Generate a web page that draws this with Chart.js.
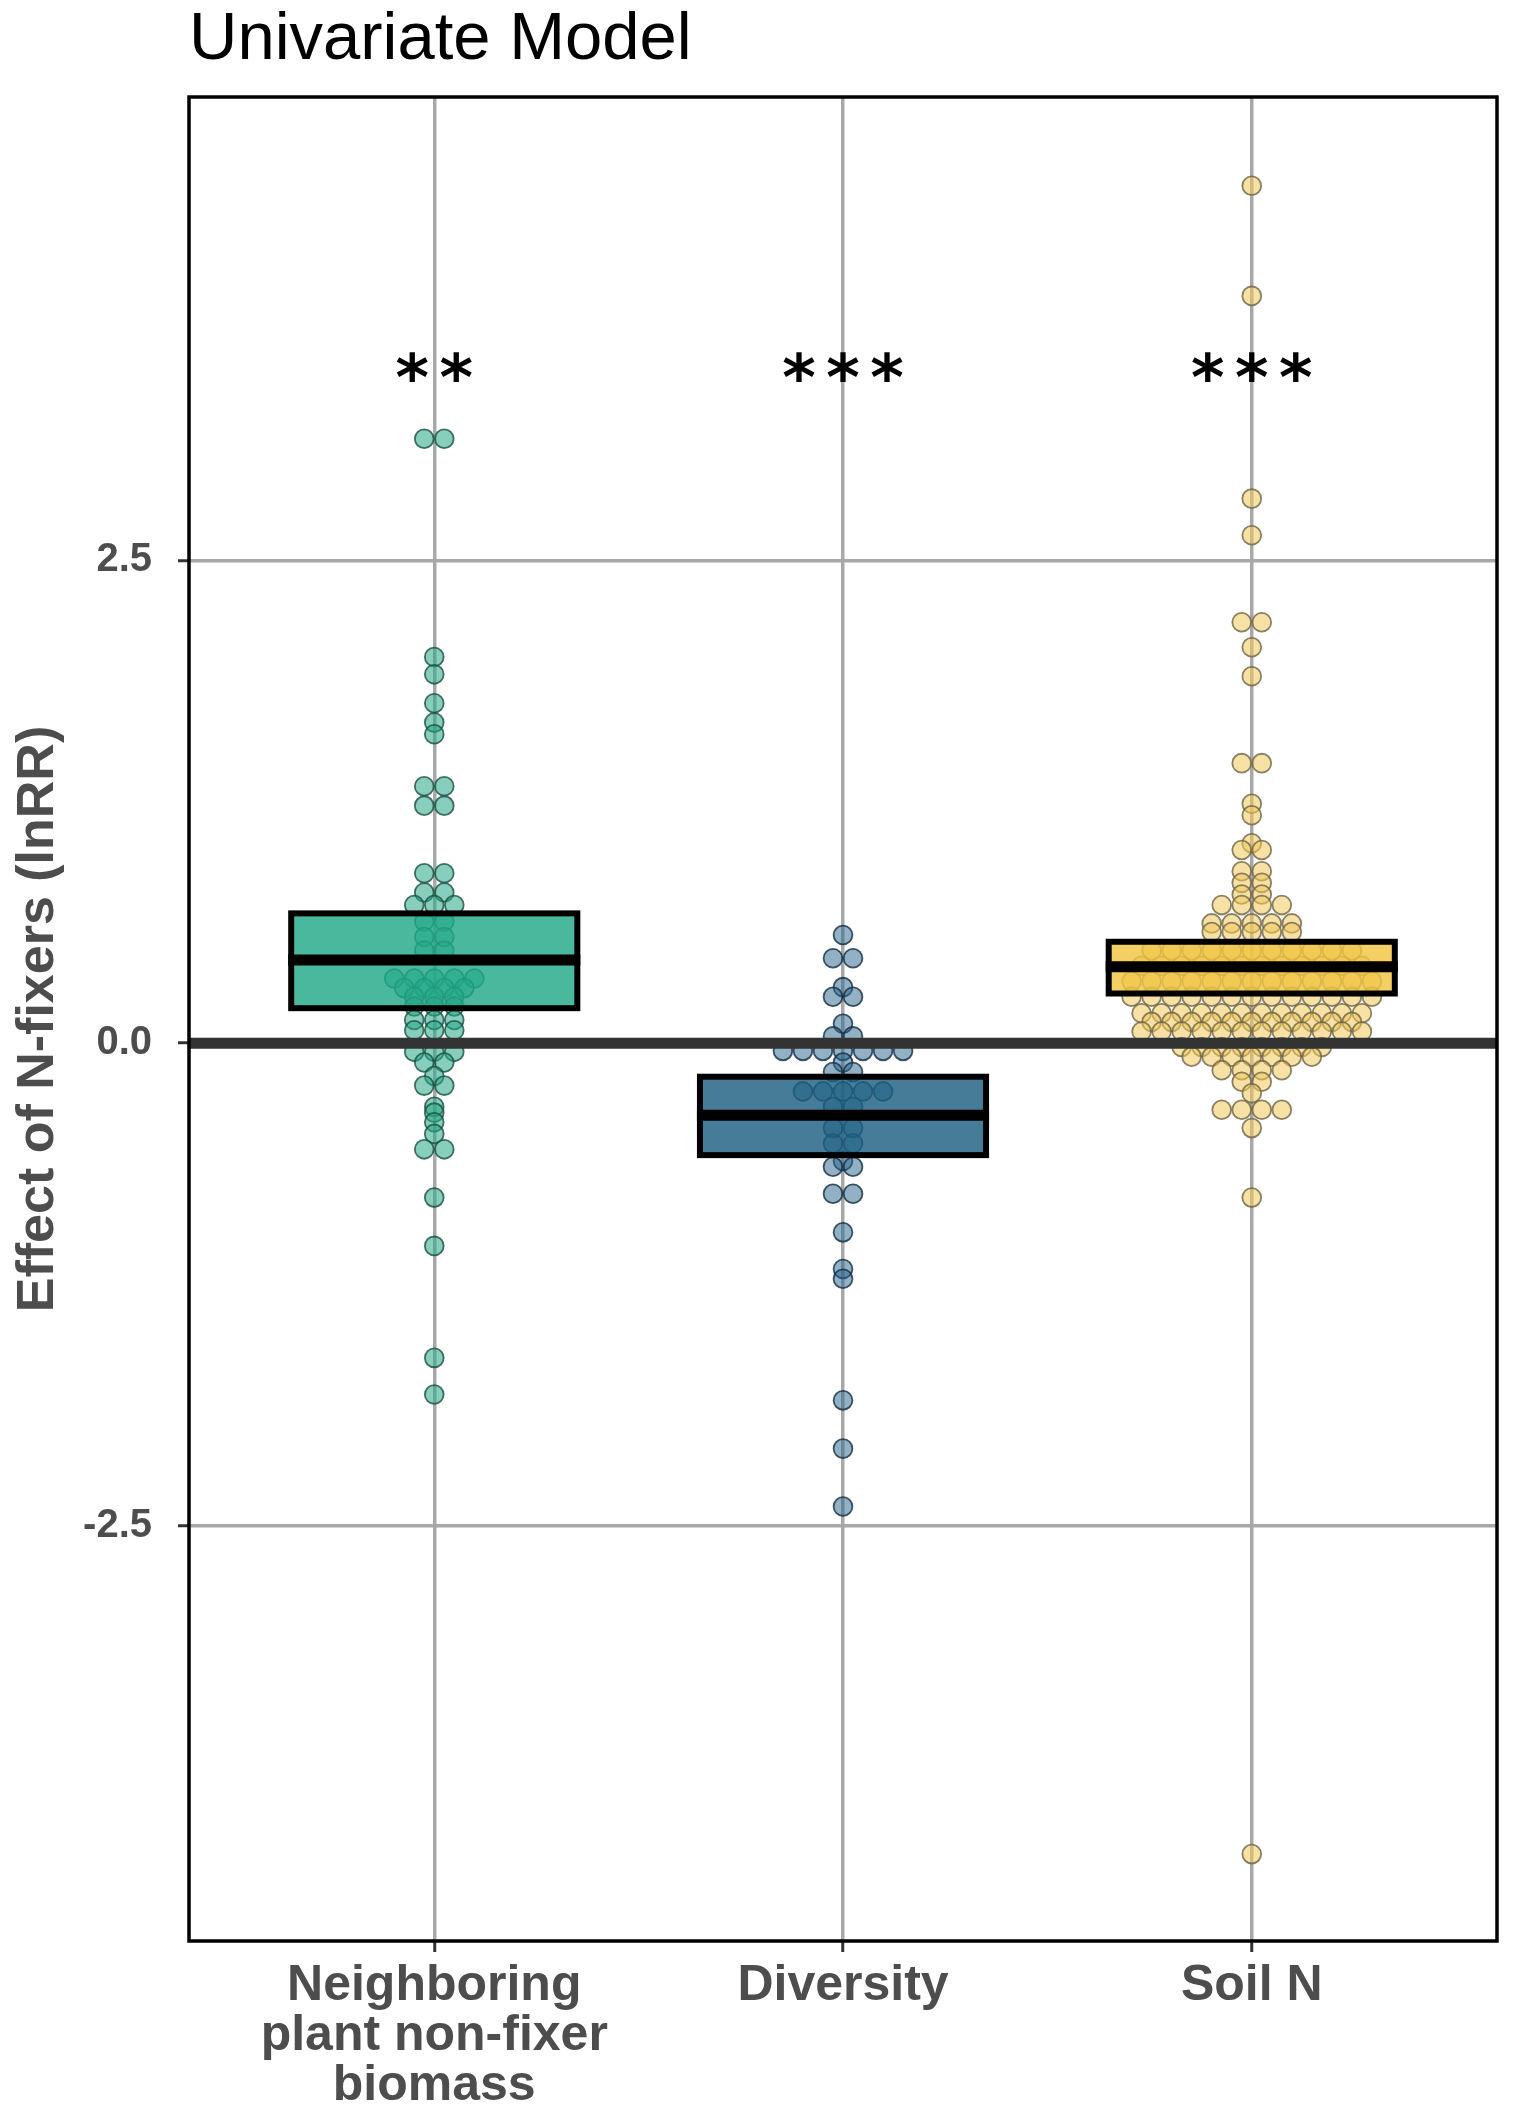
<!DOCTYPE html>
<html>
<head>
<meta charset="utf-8">
<script src="https://cdn.jsdelivr.net/npm/chart.js@4.4.1/dist/chart.umd.min.js"></script>
<style>
  html, body { margin: 0; padding: 0; background: #ffffff; }
  #wrap { width: 1514px; height: 2113px; position: relative; }
</style>
</head>
<body>
<div id="wrap"><canvas id="chart"></canvas></div>
<script>
// ---------- data ----------
const categories = ['Neighboring plant non-fixer biomass', 'Diversity', 'Soil N'];
const tickLabels = [['Neighboring', 'plant non-fixer', 'biomass'], ['Diversity'], ['Soil N']];
const yTicks = [2.5, 0, -2.5];
const significance = ['**', '***', '***'];
const significanceY = 3.5;

// crossbar: lower, middle, upper
const boxLow  = [0.181, -0.580, 0.257];
const boxMean = [0.430, -0.373, 0.395];
const boxHigh = [0.672, -0.174, 0.525];

// individual effect sizes (lnRR), one entry per dot
const neighboring = [
  3.13, 3.13, 2.00, 1.91, 1.76, 1.66, 1.60, 1.33, 1.33, 1.23, 1.23,
  0.88, 0.88, 0.78, 0.78, 0.715, 0.715, 0.715, 0.63, 0.63, 0.55, 0.55, 0.48, 0.48,
  0.335, 0.335, 0.335, 0.335, 0.335, 0.285, 0.285, 0.285, 0.285,
  0.24, 0.24, 0.24, 0.19, 0.19, 0.19, 0.12, 0.12, 0.12, 0.067, 0.067, 0.067,
  -0.045, -0.045, -0.045, -0.10, -0.10, -0.17, -0.22, -0.22,
  -0.33, -0.36, -0.41, -0.47, -0.55, -0.55, -0.80, -1.05, -1.63, -1.82
];
const diversity = [
  0.56, 0.44, 0.44, 0.29, 0.24, 0.24, 0.10, 0.035, 0.035,
  -0.04, -0.04, -0.04, -0.04, -0.04, -0.04, -0.04, -0.10, -0.15, -0.15,
  -0.25, -0.25, -0.25, -0.25, -0.25, -0.33, -0.33, -0.44, -0.44, -0.52, -0.52,
  -0.61, -0.64, -0.64, -0.78, -0.78, -0.98, -1.17, -1.22, -1.85, -2.10, -2.40
];
const soilN = [
  4.44, 3.87, 2.82, 2.63, 2.18, 2.18, 2.05, 1.90, 1.45, 1.45, 1.24, 1.18,
  1.035, 1.00, 1.00, 0.89, 0.89, 0.83, 0.83, 0.77, 0.77,
  0.715, 0.715, 0.715, 0.715, 0.62, 0.62, 0.62, 0.62, 0.62, 0.575, 0.575, 0.575, 0.575, 0.575,
  0.48, 0.48, 0.48, 0.48, 0.48, 0.48, 0.48, 0.48, 0.48, 0.48, 0.48,
  0.40, 0.40, 0.40, 0.40, 0.40, 0.40, 0.40, 0.40, 0.40, 0.40, 0.40, 0.40,
  0.32, 0.32, 0.32, 0.32, 0.32, 0.32, 0.32, 0.32, 0.32, 0.32, 0.32, 0.32, 0.32,
  0.24, 0.24, 0.24, 0.24, 0.24, 0.24, 0.24, 0.24, 0.24, 0.24, 0.24, 0.24, 0.24,
  0.155, 0.155, 0.155, 0.155, 0.155, 0.155, 0.155, 0.155, 0.155, 0.155, 0.155, 0.155,
  0.11, 0.11, 0.11, 0.11, 0.11, 0.11, 0.11, 0.11, 0.11, 0.11, 0.11,
  0.06, 0.06, 0.06, 0.06, 0.06, 0.06, 0.06, 0.06, 0.06, 0.06, 0.06, 0.06,
  -0.02, -0.02, -0.02, -0.02, -0.02, -0.02, -0.02, -0.02,
  -0.07, -0.07, -0.07, -0.07, -0.07, -0.07, -0.07,
  -0.14, -0.14, -0.14, -0.14, -0.20, -0.20, -0.26,
  -0.345, -0.345, -0.345, -0.345, -0.44, -0.80, -4.20
];
const seriesValues = [neighboring, diversity, soilN];

// ---------- styles ----------
const FONT = "'Liberation Sans', Arial, Helvetica, sans-serif";
const dotFill   = ['rgba(38,166,133,0.55)', 'rgba(40,100,140,0.50)', 'rgba(240,200,90,0.55)'];
const dotBorder = ['rgba(25,80,65,0.8)', 'rgba(20,45,65,0.8)', 'rgba(110,100,70,0.8)'];
const boxFill   = ['rgba(33,168,136,0.82)', 'rgba(29,95,129,0.82)', 'rgba(240,196,66,0.82)'];
const stackStep = 0.049;      // horizontal spacing of stacked dots (x units)
const boxHalfWidth = 0.35;

// dotplot-style centred stacking of equal values
function stackDots(values, center) {
  const groups = new Map();
  values.forEach(v => {
    const k = v.toFixed(3);
    if (!groups.has(k)) groups.set(k, []);
    groups.get(k).push(v);
  });
  const pts = [];
  groups.forEach(arr => {
    const n = arr.length;
    arr.forEach((v, i) => pts.push({ x: center + (i - (n - 1) / 2) * stackStep, y: v }));
  });
  return pts;
}

const datasets = seriesValues.map((vals, i) => ({
  label: categories[i],
  data: stackDots(vals, i + 1),
  backgroundColor: dotFill[i],
  borderColor: dotBorder[i],
  borderWidth: 1.8,
  pointRadius: 9.4,
  pointHoverRadius: 9.4
}));

const overlay = {
  id: 'overlay',
  afterDatasetsDraw(chart) {
    const { ctx, chartArea: a, scales: { x, y } } = chart;
    ctx.save();
    // zero reference line
    const y0 = y.getPixelForValue(0);
    ctx.strokeStyle = '#333333';
    ctx.lineWidth = 11;
    ctx.beginPath(); ctx.moveTo(a.left, y0); ctx.lineTo(a.right, y0); ctx.stroke();
    // crossbars
    categories.forEach((c, i) => {
      const xl = x.getPixelForValue(i + 1 - boxHalfWidth);
      const xr = x.getPixelForValue(i + 1 + boxHalfWidth);
      const yt = y.getPixelForValue(boxHigh[i]);
      const yb = y.getPixelForValue(boxLow[i]);
      const ym = y.getPixelForValue(boxMean[i]);
      ctx.fillStyle = boxFill[i];
      ctx.fillRect(xl, yt, xr - xl, yb - yt);
      ctx.strokeStyle = '#000000';
      ctx.lineWidth = 6;
      ctx.strokeRect(xl, yt, xr - xl, yb - yt);
      ctx.lineWidth = 11;
      ctx.beginPath(); ctx.moveTo(xl - 3, ym); ctx.lineTo(xr + 3, ym); ctx.stroke();
    });
    // significance stars
    ctx.fillStyle = '#000000';
    ctx.font = "bold 64px 'DejaVu Sans', sans-serif";
    ctx.textAlign = 'center';
    ctx.textBaseline = 'alphabetic';
    const m = ctx.measureText('*');
    const yOff = (m.actualBoundingBoxAscent - m.actualBoundingBoxDescent) / 2;
    const ys = y.getPixelForValue(significanceY) + yOff;
    const gap = 44;
    significance.forEach((s, i) => {
      const cx = x.getPixelForValue(i + 1);
      const n = s.length;
      for (let k = 0; k < n; k++) {
        ctx.fillText(s[k], cx + (k - (n - 1) / 2) * gap, ys);
      }
    });
    // panel border
    ctx.strokeStyle = '#000000';
    ctx.lineWidth = 3.5;
    ctx.strokeRect(a.left, a.top, a.right - a.left, a.bottom - a.top);
    ctx.restore();
  }
};

new Chart(document.getElementById('chart'), {
  type: 'scatter',
  data: { datasets },
  plugins: [overlay],
  options: {
    responsive: true,
    maintainAspectRatio: false,
    animation: false,
    events: [],
    layout: { padding: { left: 0, right: 17, top: 0, bottom: 0 } },
    plugins: {
      legend: { display: false },
      tooltip: { enabled: false },
      title: {
        display: true,
        text: 'Univariate Model',
        align: 'start',
        fullSize: false,
        color: '#000000',
        font: { family: FONT, size: 67, weight: 'normal', lineHeight: 1.2 },
        padding: { top: 0, bottom: 16.6 }
      }
    },
    scales: {
      x: {
        type: 'linear',
        min: 0.4,
        max: 3.6,
        afterBuildTicks: s => { s.ticks = categories.map((c, i) => ({ value: i + 1 })); },
        afterFit: s => { s.height = 172; },
        ticks: {
          callback: (v) => tickLabels[Math.round(v) - 1] || '',
          color: '#4d4d4d',
          font: { family: FONT, size: 50, weight: 'bold', lineHeight: 1.0 },
          padding: 9,
          maxRotation: 0,
          autoSkip: false
        },
        grid: {
          color: '#a8a8a8',
          lineWidth: 3.5,
          drawTicks: true,
          tickLength: 11,
          tickColor: '#333333',
          tickWidth: 3
        },
        border: { display: false }
      },
      y: {
        type: 'linear',
        min: -4.65,
        max: 4.90,
        afterBuildTicks: s => { s.ticks = yTicks.map(v => ({ value: v })); },
        afterFit: s => { s.width = 189; },
        ticks: {
          callback: v => Number(v).toFixed(1),
          color: '#4d4d4d',
          font: { family: FONT, size: 40, weight: 'bold' },
          padding: 26
        },
        grid: {
          color: '#a8a8a8',
          lineWidth: 3.5,
          drawTicks: true,
          tickLength: 11,
          tickColor: '#333333',
          tickWidth: 3
        },
        border: { display: false },
        title: {
          display: true,
          text: 'Effect of N-fixers (lnRR)',
          color: '#4d4d4d',
          font: { family: FONT, size: 52, weight: 'bold', lineHeight: 1.2 },
          padding: { top: 7, bottom: 0 }
        }
      }
    }
  }
});
</script>
</body>
</html>
